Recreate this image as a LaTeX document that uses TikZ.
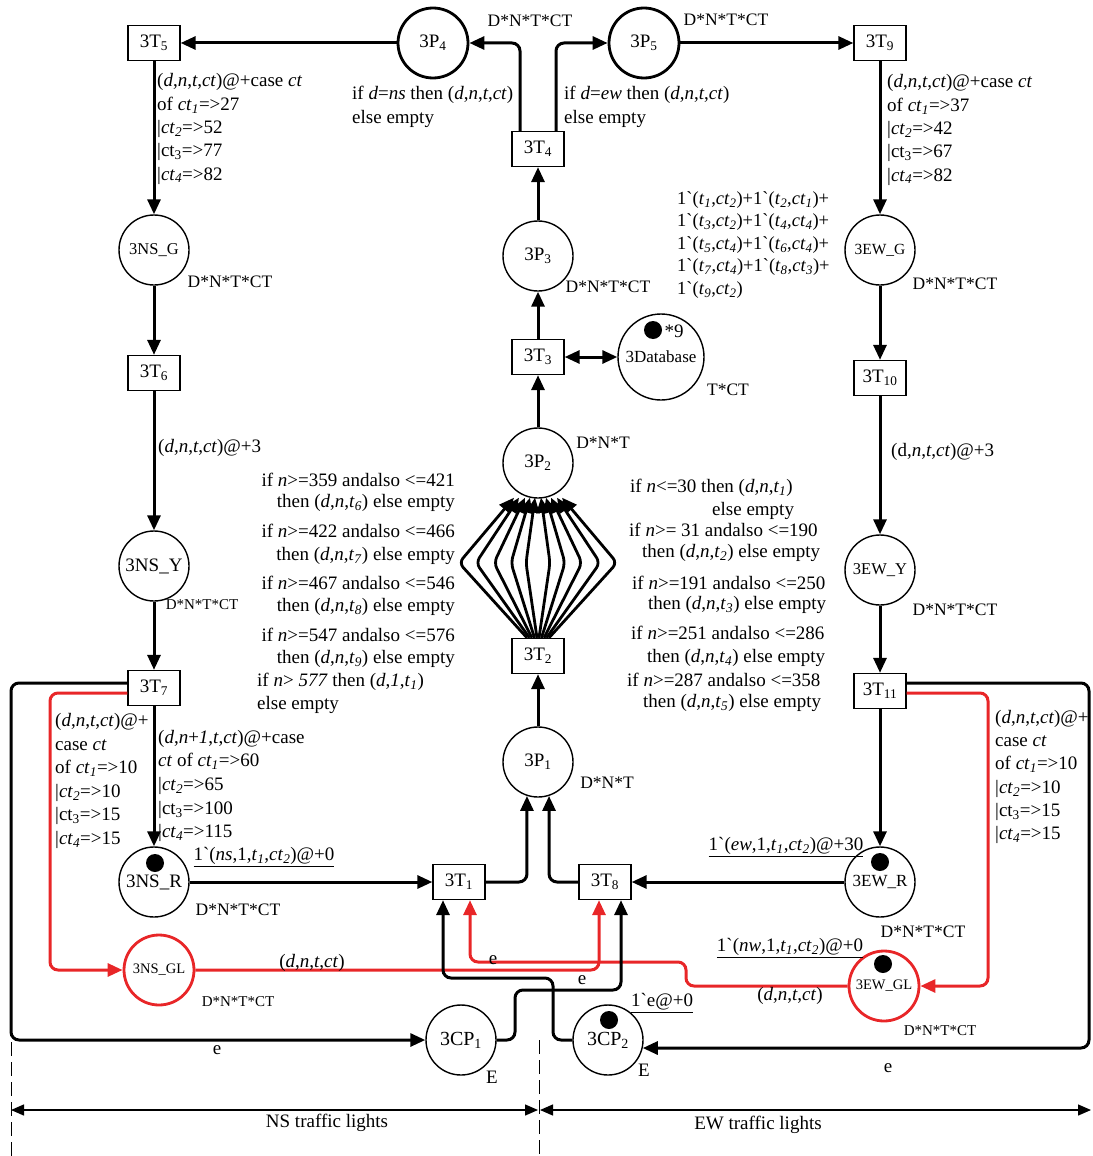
\documentclass[tikz,border=0pt]{standalone}
\usepackage{fontspec}
\setmainfont{Liberation Serif}[Ligatures=TeXOff]
\usetikzlibrary{arrows.meta,calc}
\definecolor{myred}{RGB}{232,38,40}
\newcommand\vi[1]{\textit{#1}}
\newcommand\sbi[1]{\textsubscript{\textit{#1}}}
\newcommand\sbu[1]{\textsubscript{#1}}
\newcommand\bq{`}
\begin{document}
\begin{tikzpicture}[x=1pt,y=-1pt,
  every node/.style={font=\fontsize{19}{23.3}\selectfont, inner sep=0pt},
  trans/.style={draw, line width=1.3pt, minimum width=52pt, minimum height=35pt, fill=white},
  place/.style={circle, draw, line width=1.4pt, minimum size=70pt},
  bplace/.style={place, line width=2.8pt},
  rplace/.style={place, draw=myred, line width=2.8pt},
  token/.style={circle, fill=black, minimum size=18pt},
  arc/.style={line width=3pt, rounded corners=8pt, -{Triangle[length=15pt,width=13pt]}},
  dnt/.style={font=\fontsize{17.5}{21}\selectfont},
  sdnt/.style={font=\fontsize{15}{18}\selectfont},
  blk/.style={anchor=west, align=left}]
\useasboundingbox (0,0) rectangle (1092,1156);

% transitions
\node[trans] (t5) at (154,43) {3T\sbu{5}};
\node[trans] (t9) at (880,43) {3T\sbu{9}};
\node[trans] (t4) at (538,149) {3T\sbu{4}};
\node[trans] (t3) at (538,357) {3T\sbu{3}};
\node[trans] (t6) at (154,373) {3T\sbu{6}};
\node[trans] (t10) at (880,378) {3T\sbu{10}};
\node[trans] (t2) at (538,656) {3T\sbu{2}};
\node[trans] (t7) at (154,688) {3T\sbu{7}};
\node[trans] (t11) at (880,691) {3T\sbu{11}};
\node[trans] (t1) at (459,882) {3T\sbu{1}};
\node[trans] (t8) at (605,882) {3T\sbu{8}};

% places
\node[bplace] (p4) at (433,43) {3P\sbu{4}};
\node[bplace] (p5) at (644,43) {3P\sbu{5}};
\node[place] (p3) at (538,256) {3P\sbu{3}};
\node[place, font=\fontsize{16.5}{19}\selectfont] (nsg) at (154,250) {3NS\_G};
\node[place, font=\fontsize{15.5}{18}\selectfont] (ewg) at (880,250) {3EW\_G};
\node[place, minimum size=86pt, font=\fontsize{17}{20}\selectfont] (db) at (661,357) {3Database};
\node[place] (p2) at (538,463) {3P\sbu{2}};
\node[place] (nsy) at (154,566) {3NS\_Y};
\node[place, font=\fontsize{16.5}{19}\selectfont] (ewy) at (880,570) {3EW\_Y};
\node[place] (p1) at (538,762) {3P\sbu{1}};
\node[place, font=\fontsize{19}{22}\selectfont] (nsr) at (154,882) {3NS\_R};
\node[place, font=\fontsize{17}{20}\selectfont] (ewr) at (880,882) {3EW\_R};
\node[rplace, font=\fontsize{14.5}{17}\selectfont] (nsgl) at (159,970) {3NS\_GL};
\node[rplace, font=\fontsize{14.5}{17}\selectfont] (ewgl) at (884,986) {3EW\_GL};
\node[place, font=\fontsize{20}{23}\selectfont] (cp1) at (461,1040) {3CP\sbu{1}};
\node[place, font=\fontsize{20}{23}\selectfont] (cp2) at (608,1040) {3CP\sbu{2}};

% tokens
\node[token] (k1) at (653,330) {};
\node (k1l) at (674,331) {*9};
\node[token] (k2) at (155,863) {};
\node[token] (k3) at (880,862) {};
\node[token] (k4) at (883,964) {};
\node[token] (k5) at (609,1020) {};

% arcs
\draw[arc] (p4) -- (t5);
\draw[arc] (p5) -- (t9);
\draw[arc] ([xshift=-18pt]t4.north) |- (p4);
\draw[arc] ([xshift=18pt]t4.north) |- (p5);
\draw[arc] (p3) -- (t4);
\draw[arc] (t3) -- (p3);
\draw[line width=3pt, {Triangle[length=15pt,width=13pt]}-{Triangle[length=15pt,width=13pt]}] (t3) -- (db);
\draw[arc] (p2) -- (t3);
\foreach \s/\m/\e in {-11/-79/-24, -8.5/-62/-19, -6/-44/-13, -3.5/-27/-8, -1/-12/-3, 1/12/3, 3.5/27/8, 6/44/13, 8.5/62/19, 11/79/24}
  \draw[arc, line width=2.8pt, rounded corners=6pt] ($(t2.north)+(\s,0)$) -- ($(t2.north)+(\m,-75)$) -- ($(p2.south)+(\e,-1)$);
\draw[arc] (p1) -- (t2);
\draw[arc] (t1.east) -| (p1.252);
\draw[arc] (t8.west) -| (p1.288);
\draw[arc] (nsr) -- (t1);
\draw[arc] (ewr) -- (t8);
\draw[arc] (t5) -- (nsg);
\draw[arc] (nsg) -- (t6);
\draw[arc] (t6) -- (nsy);
\draw[arc] (nsy) -- (t7);
\draw[arc] (t7) -- (nsr);
\draw[arc] (t9) -- (ewg);
\draw[arc] (ewg) -- (t10);
\draw[arc] (t10) -- (ewy);
\draw[arc] (ewy) -- (t11);
\draw[arc] (t11) -- (ewr);
\draw[arc] ([yshift=5pt]t7.west) -| (11,1040) -- (cp1);
\draw[arc, color=myred] ([yshift=-5pt]t7.west) -| (50,970) -- (nsgl);
\draw[arc] ([yshift=8pt]t11.east) -| (1089,1048) -- (cp2.347);
\draw[arc, color=myred] ([yshift=-2pt]t11.east) -| (988,986) -- (ewgl);
\draw[arc, color=myred] (nsgl.east) -| ([xshift=-6pt]t8.south);
\draw[arc, color=myred] (ewgl.west) -| (686,962) -| ([xshift=11pt]t1.south);
\draw[arc] (cp2.west) -| (553,978) -| ([xshift=-16pt]t1.south);
\draw[arc] (cp1.east) -| (515,990) -| ([xshift=16pt]t8.south);

% labels
\node[dnt] (d1) at (530,21) {D*N*T*CT};
\node[dnt] (d2) at (726,20) {D*N*T*CT};
\node[blk] (lns) at (352,107) {if \vi{d}=\vi{ns} then (\vi{d},\vi{n},\vi{t},\vi{ct})\\else empty};
\node[blk] (lew) at (564,107) {if \vi{d}=\vi{ew} then (\vi{d},\vi{n},\vi{t},\vi{ct})\\else empty};
\node[blk] (lt5) at (157,129) {(\vi{d},\vi{n},\vi{t},\vi{ct})@+case \vi{ct}\\of \vi{ct}\sbi{1}=>27\\|\vi{ct}\sbi{2}=>52\\|ct\sbu{3}=>77\\|\vi{ct}\sbi{4}=>82};
\node[blk] (lt9) at (887,130) {(\vi{d},\vi{n},\vi{t},\vi{ct})@+case \vi{ct}\\of \vi{ct}\sbi{1}=>37\\|\vi{ct}\sbi{2}=>42\\|ct\sbu{3}=>67\\|\vi{ct}\sbi{4}=>82};
\node[dnt] (d3) at (230,282) {D*N*T*CT};
\node[dnt] (d4) at (608,287) {D*N*T*CT};
\node[dnt] (d5) at (955,284) {D*N*T*CT};
\node[blk, font=\fontsize{18.5}{22.5}\selectfont] (ldb) at (677,245) {1\bq(\vi{t}\sbi{1},\vi{ct}\sbi{2})+1\bq(\vi{t}\sbi{2},\vi{ct}\sbi{1})+\\1\bq(\vi{t}\sbi{3},\vi{ct}\sbi{2})+1\bq(\vi{t}\sbi{4},\vi{ct}\sbi{4})+\\1\bq(\vi{t}\sbi{5},\vi{ct}\sbi{4})+1\bq(\vi{t}\sbi{6},\vi{ct}\sbi{4})+\\1\bq(\vi{t}\sbi{7},\vi{ct}\sbi{4})+1\bq(\vi{t}\sbi{8},\vi{ct}\sbi{3})+\\1\bq(\vi{t}\sbi{9},\vi{ct}\sbi{2})};
\node[dnt] (d6) at (728,390) {T*CT};
\node[dnt] (d7) at (603,443) {D*N*T};
\node[blk] (lt6) at (158,448) {(\vi{d},\vi{n},\vi{t},\vi{ct})@+3};
\node[blk] (lt10) at (891,452) {(d,\vi{n},\vi{t},\vi{ct})@+3};
\node[sdnt] (d8) at (202,605) {D*N*T*CT};
\node[dnt] (d9) at (955,610) {D*N*T*CT};

\node[anchor=east] (a1) at (455,480) {if \vi{n}>=359 andalso <=421};
\node[anchor=east] (a2) at (455,503) {then (\vi{d},\vi{n},\vi{t}\sbi{6}) else empty};
\node[anchor=east] (a3) at (455,531) {if \vi{n}>=422 andalso <=466};
\node[anchor=east] (a4) at (455,556) {then (\vi{d},\vi{n},\vi{t}\sbi{7}) else empty};
\node[anchor=east] (a5) at (455,583) {if \vi{n}>=467 andalso <=546};
\node[anchor=east] (a6) at (455,607) {then (\vi{d},\vi{n},\vi{t}\sbi{8}) else empty};
\node[anchor=east] (a7) at (455,635) {if \vi{n}>=547 andalso <=576};
\node[anchor=east] (a8) at (455,659) {then (\vi{d},\vi{n},\vi{t}\sbi{9}) else empty};
\node[anchor=west] (a9) at (257,682) {if \vi{n}> \vi{577} then (\vi{d},\vi{1},\vi{t}\sbi{1})};
\node[anchor=west] (a10) at (257,705) {else empty};

\node[anchor=west] (b1) at (630,488) {if \vi{n}<=30 then (\vi{d},\vi{n},\vi{t}\sbi{1})};
\node[anchor=west] (b2) at (712,511) {else empty};
\node[anchor=west] (b3) at (629,530) {if \vi{n}>= 31 andalso <=190};
\node[anchor=west] (b4) at (642,553) {then (\vi{d},\vi{n},\vi{t}\sbi{2}) else empty};
\node[anchor=west] (b5) at (632,583) {if \vi{n}>=191 andalso <=250};
\node[anchor=west] (b6) at (648,605) {then (\vi{d},\vi{n},\vi{t}\sbi{3}) else empty};
\node[anchor=west] (b7) at (631,633) {if \vi{n}>=251 andalso <=286};
\node[anchor=west] (b8) at (647,658) {then (\vi{d},\vi{n},\vi{t}\sbi{4}) else empty};
\node[anchor=west] (b9) at (627,680) {if \vi{n}>=287 andalso <=358};
\node[anchor=west] (b10) at (643,703) {then (\vi{d},\vi{n},\vi{t}\sbi{5}) else empty};

\node[dnt] (d10) at (607,783) {D*N*T};
\node[blk, font=\fontsize{19}{23.6}\selectfont] (lt7r) at (55,781) {(\vi{d},\vi{n},\vi{t},\vi{ct})@+\\case \vi{ct}\\of \vi{ct}\sbi{1}=>10\\|\vi{ct}\sbi{2}=>10\\|ct\sbu{3}=>15\\|\vi{ct}\sbi{4}=>15};
\node[blk, font=\fontsize{19}{23.6}\selectfont] (lt7b) at (158,786) {(\vi{d},\vi{n}+\vi{1},\vi{t},\vi{ct})@+case\\\vi{ct} of \vi{ct}\sbi{1}=>60\\|\vi{ct}\sbi{2}=>65\\|ct\sbu{3}=>100\\|\vi{ct}\sbi{4}=>115};
\node[blk, font=\fontsize{19}{23.3}\selectfont] (lt11r) at (995,777) {(\vi{d},\vi{n},\vi{t},\vi{ct})@+\\case \vi{ct}\\of \vi{ct}\sbi{1}=>10\\|\vi{ct}\sbi{2}=>10\\|ct\sbu{3}=>15\\|\vi{ct}\sbi{4}=>15};
\node (m1) at (264,857) {\underline{1\bq(\vi{ns},1,\vi{t}\sbi{1},\vi{ct}\sbi{2})@+0}};
\node[dnt] (d11) at (238,910) {D*N*T*CT};
\node (m2) at (786,847) {\underline{1\bq(\vi{ew},1,\vi{t}\sbi{1},\vi{ct}\sbi{2})@+30}};
\node[dnt] (d12) at (923,932) {D*N*T*CT};
\node (m3) at (790,948) {\underline{1\bq(\vi{nw},1,\vi{t}\sbi{1},\vi{ct}\sbi{2})@+0}};
\node (c1) at (312,963) {(\vi{d},\vi{n},\vi{t},\vi{ct})};
\node[sdnt] (d13) at (238,1002) {D*N*T*CT};
\node (c2) at (790,996) {(\vi{d},\vi{n},\vi{t},\vi{ct})};
\node[sdnt] (d14) at (940,1031) {D*N*T*CT};
\node (e1) at (493,960) {e};
\node (e2) at (582,980) {e};
\node (e3) at (217,1050) {e};
\node (e4) at (888,1068) {e};
\node (m4) at (662,1003) {\underline{1\bq e@+0}};
\node (E1) at (492,1077) {E};
\node (E2) at (644,1070) {E};

% bottom dimension lines
\coordinate (q0) at (11,1042);
\coordinate (q1) at (11,1156);
\coordinate (q2) at (539,1040);
\coordinate (q3) at (539,1156);
\draw[line width=0.8pt, dash pattern=on 14pt off 6pt] (q0) -- (q1);
\draw[line width=0.8pt, dash pattern=on 14pt off 6pt] (q2) -- (q3);
\coordinate (r0) at (11,1110);
\coordinate (r1) at (538,1110);
\coordinate (r2) at (540,1110);
\coordinate (r3) at (1091,1110);
\draw[line width=1.3pt, {Triangle[length=13pt,width=11pt]}-{Triangle[length=13pt,width=11pt]}] (r0) -- (r1);
\draw[line width=1.3pt, {Triangle[length=13pt,width=11pt]}-{Triangle[length=13pt,width=11pt]}] (r2) -- (r3);
\node (n1) at (327,1123) {NS traffic lights};
\node (n2) at (758,1125) {EW traffic lights};
\end{tikzpicture}
\end{document}
